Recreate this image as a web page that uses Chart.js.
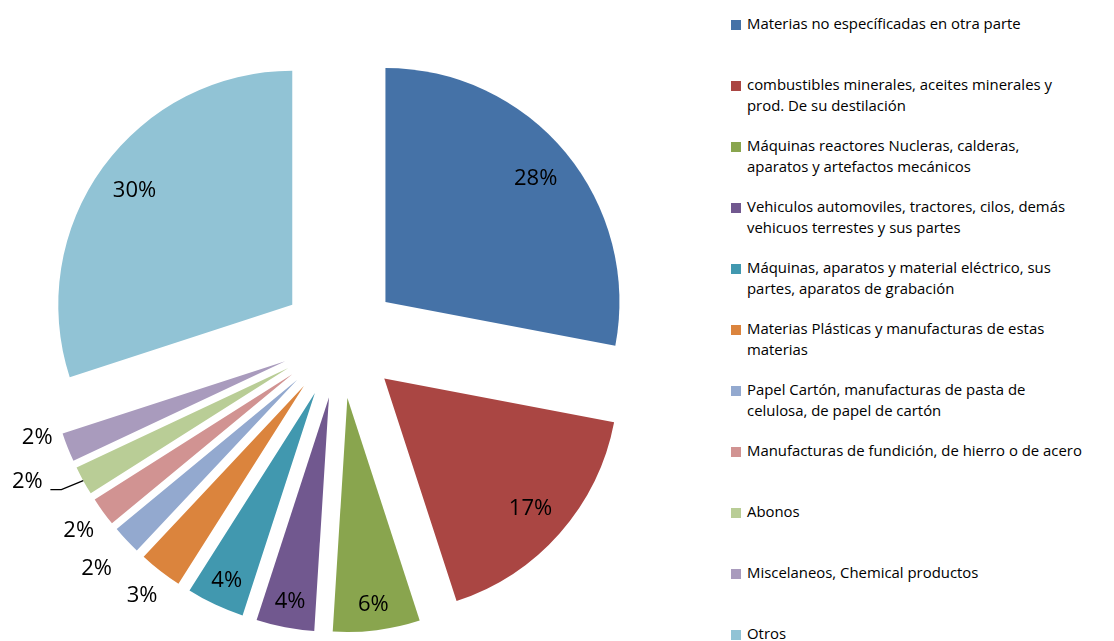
<!DOCTYPE html>
<html>
<head>
<meta charset="utf-8">
<script src="https://cdn.jsdelivr.net/npm/chart.js@4"></script>
<style>
    html, body { margin: 0; padding: 0; background: #fff; }
    #wrap { position: relative; width: 1114px; height: 641px; overflow: hidden; }
    #pie { position: absolute; left: 0; top: 0; }
    #pie-legend { position: absolute; left: 0; top: 0; font-family: "Open Sans", sans-serif; font-size: 14.9px; line-height: 21px; color: #000; }
    .item { position: absolute; left: 731px; white-space: nowrap; }
    .box { position: absolute; left: 0; top: 6.5px; width: 10px; height: 10px; }
    .txt { position: absolute; left: 16px; top: 0; }
</style>
</head>
<body>
<div id="wrap">
    <canvas id="pie" width="720" height="641"></canvas>
    <div id="pie-legend"></div>
</div>
<script>
const categories = [
    'Materias no específicadas en otra parte',
    ['combustibles minerales, aceites minerales y', 'prod. De su destilación'],
    ['Máquinas reactores Nucleras, calderas,', 'aparatos y artefactos mecánicos'],
    ['Vehiculos automoviles, tractores, cilos, demás', 'vehicuos terrestes y sus partes'],
    ['Máquinas, aparatos y material eléctrico, sus', 'partes, aparatos de grabación'],
    ['Materias Plásticas y manufacturas de estas', 'materias'],
    ['Papel Cartón, manufacturas de pasta de', 'celulosa, de papel de cartón'],
    'Manufacturas de fundición, de hierro o de acero',
    'Abonos',
    'Miscelaneos, Chemical productos',
    'Otros'
];
const shares = [28, 17, 6, 4, 4, 3, 2, 2, 2, 2, 30];
const sliceColors = ['#4572A7', '#AA4643', '#89A54E', '#71588F', '#4198AF', '#DB843D',
    '#93A9CF', '#D19392', '#B9CD96', '#A99BBD', '#91C3D5'];

const R = 234;        // pie radius
const EXPLODE = 59;   // distance each slice is pulled out
// small label nudges (radial px, angle deg), like excel's best fit
const labelTweak = {
    6: { r: 11 },
    8: { r: 20, a: 4.5, leader: true },
    9: { r: -5, a: 3.8 }
};

function centerOf(chart) {
    const a = chart.chartArea;
    return { cx: (a.left + a.right) / 2, cy: (a.top + a.bottom) / 2 };
}

var explode = {
    id: 'explode',
    beforeDatasetsDraw(chart) {
        const { cx, cy } = centerOf(chart);
        chart.getDatasetMeta(0).data.forEach((arc) => {
            const mid = (arc.startAngle + arc.endAngle) / 2;
            arc.x = cx + Math.cos(mid) * EXPLODE;
            arc.y = cy + Math.sin(mid) * EXPLODE;
        });
    }
};

var pctLabels = {
    id: 'pctLabels',
    afterDatasetsDraw(chart) {
        const { ctx } = chart;
        const { cx, cy } = centerOf(chart);
        const total = shares.reduce((acc, cur) => acc + cur, 0);

        ctx.save();
        ctx.font = '22px "Open Sans"';
        ctx.fillStyle = '#000';
        ctx.strokeStyle = '#000';
        ctx.lineWidth = 1.3;
        ctx.textAlign = 'center';
        ctx.textBaseline = 'middle';

        chart.getDatasetMeta(0).data.forEach((arc, i) => {
            const v = shares[i];
            const tw = labelTweak[i] || {};
            const mid0 = (arc.startAngle + arc.endAngle) / 2;
            let r;
            if (v < 4) {
                r = R + EXPLODE + 30;
            } else if (v >= 10) {
                r = R + EXPLODE - 39;
            } else {
                r = R + EXPLODE - 27;
            }
            r += tw.r || 0;
            const mid = mid0 + (tw.a || 0) * Math.PI / 180;
            const x = cx + Math.cos(mid) * r;
            const y = cy + Math.sin(mid) * r;
            ctx.fillText(Math.round(v * 100 / total) + '%', x, y + 1);

            if (tw.leader) {
                ctx.beginPath();
                ctx.moveTo(x + 23, y + 9);
                ctx.lineTo(x + 34, y + 9);
                ctx.lineTo(cx + Math.cos(mid0) * (R + EXPLODE), cy + Math.sin(mid0) * (R + EXPLODE));
                ctx.stroke();
            }
        });
        ctx.restore();
    }
};

var config = {
    type: 'pie',
    data: {
        labels: categories,
        datasets: [{
            data: shares,
            backgroundColor: sliceColors,
            borderWidth: 0,
            offset: 0,
            hoverOffset: 0
        }]
    },
    options: {
        responsive: false,
        animation: false,
        events: [],
        radius: R,
        layout: { padding: { top: 38, right: 40 } },
        plugins: {
            legend: { display: false },
            tooltip: { enabled: false }
        }
    },
    plugins: [explode, pctLabels]
};

new Chart(document.getElementById('pie'), config);

// legend on the right, one row every ~61px like the original
let html = '';
categories.forEach((label, i) => {
    const lines = Array.isArray(label) ? label : [label];
    const top = 24 + i * 61 - 11;
    html += `
        <div class="item" style="top:${top}px">
            <div class="box" style="background-color:${sliceColors[i]}"></div>
            <div class="txt">${lines.join('<br>')}</div>
        </div>`;
});
document.getElementById('pie-legend').innerHTML = html;
</script>
</body>
</html>
